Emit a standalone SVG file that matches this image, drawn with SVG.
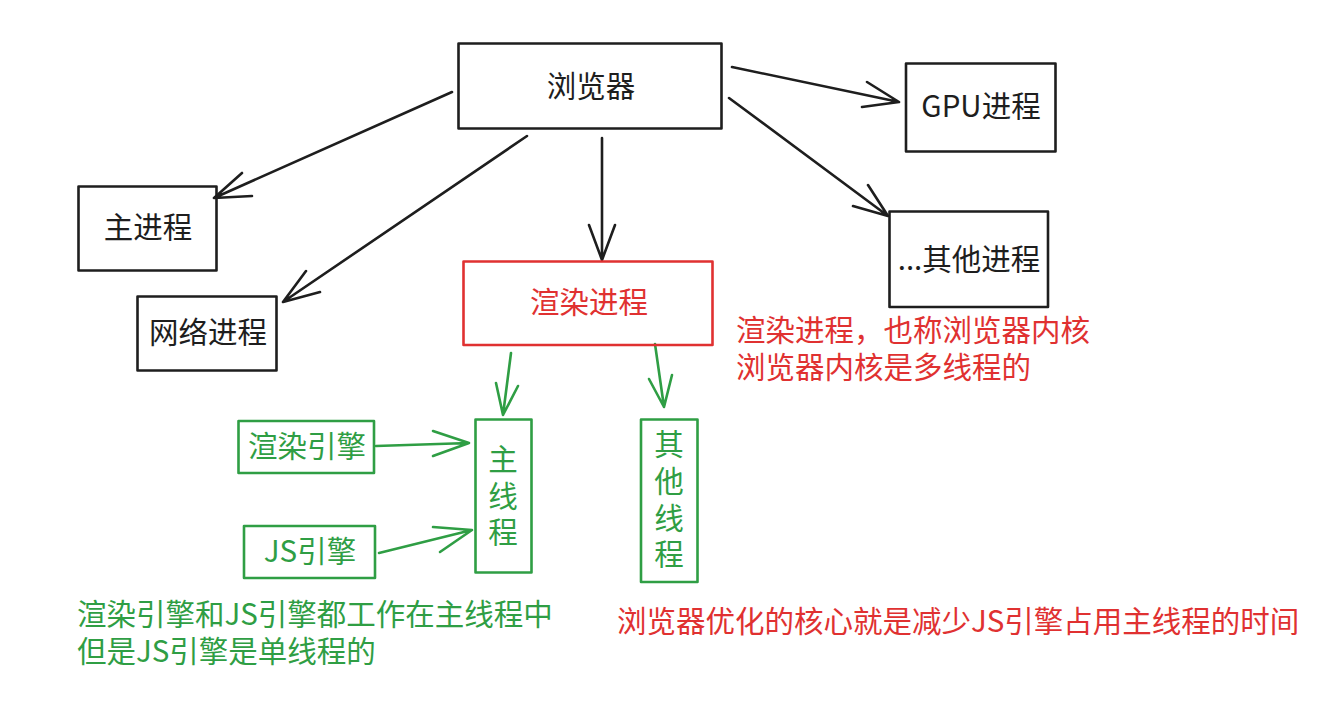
<svg xmlns="http://www.w3.org/2000/svg" width="1321" height="723" viewBox="0 0 1321 723">
<style>
.k{fill:none;stroke:#1e1e1e;stroke-width:2.6;stroke-linecap:round;stroke-linejoin:round}
.r{fill:none;stroke:#e03131;stroke-width:2.6;stroke-linecap:round;stroke-linejoin:round}
.g{fill:none;stroke:#2f9e44;stroke-width:2.6;stroke-linecap:round;stroke-linejoin:round}
text{font-family:"Noto Sans CJK SC","Liberation Sans",sans-serif;font-size:29.5px}
.tk{fill:#1e1e1e}
.tr{fill:#e03131}
.tg{fill:#2f9e44}
.m{text-anchor:middle}
</style>
<rect width="1321" height="723" fill="#ffffff"/>
<g id="connectors">
  <path class="k" d="M452,92 L214,198 M242,173 L214,198 L252,196"/>
  <path class="k" d="M527,136 L283,302 M306,271 L283,302 L320,292"/>
  <path class="k" d="M602,138 L602,260 M589,225 L602,260 L615,225"/>
  <path class="k" d="M732,67 L899,102 M867,82 L899,102 L862,107"/>
  <path class="k" d="M729,98 L888,216 M868,185 L888,216 L853,206"/>
  <path class="g" d="M511,353 L503,415 M496,383 L503,415 L518,386"/>
  <path class="g" d="M655,344 L664,407 M649,379 L664,407 L672,375"/>
  <path class="g" d="M376,446 L469,443 M433,431 L469,443 L433,456"/>
  <path class="g" d="M379,553 L472,530 M433,527 L472,530 L440,552"/>
</g>
<g id="browser"><rect class="k" x="458.5" y="43.5" width="263" height="85"/><text class="tk m" x="591" y="97">浏览器</text></g>
<g id="gpu"><rect class="k" x="906" y="63.5" width="149.5" height="88"/><text class="tk m" x="981" y="117">GPU进程</text></g>
<g id="other-process"><rect class="k" x="889.5" y="211.5" width="158.5" height="95.5"/><text class="tk m" x="969" y="270">...其他进程</text></g>
<g id="main-process"><rect class="k" x="78.5" y="186.5" width="138" height="84"/><text class="tk m" x="148" y="238">主进程</text></g>
<g id="network-process"><rect class="k" x="137.5" y="296.5" width="139" height="74"/><text class="tk m" x="208" y="343">网络进程</text></g>
<g id="render-process"><rect class="r" x="463.5" y="261.5" width="249" height="83.5"/><text class="tr m" x="589" y="313">渲染进程</text></g>
<g id="render-engine"><rect class="g" x="238.5" y="421" width="135.5" height="52"/><text class="tg m" x="307" y="457">渲染引擎</text></g>
<g id="js-engine"><rect class="g" x="244" y="526" width="131" height="52"/><text class="tg m" x="310" y="562">JS引擎</text></g>
<g id="main-thread"><rect class="g" x="475.5" y="419.5" width="56" height="153"/>
  <text class="tg m"><tspan x="503" y="470">主</tspan><tspan x="503" y="507">线</tspan><tspan x="503" y="543">程</tspan></text></g>
<g id="other-thread"><rect class="g" x="641" y="419.5" width="56.5" height="162.5"/>
  <text class="tg m"><tspan x="669" y="455">其</tspan><tspan x="669" y="492">他</tspan><tspan x="669" y="529">线</tspan><tspan x="669" y="565">程</tspan></text></g>
<g id="notes">
  <text class="tr" x="736" y="341">渲染进程，也称浏览器内核</text>
  <text class="tr" x="736" y="378">浏览器内核是多线程的</text>
  <text class="tg" x="77" y="625">渲染引擎和JS引擎都工作在主线程中</text>
  <text class="tg" x="77" y="662">但是JS引擎是单线程的</text>
  <text class="tr" x="617" y="632">浏览器优化的核心就是减少JS引擎占用主线程的时间</text>
</g>
</svg>
